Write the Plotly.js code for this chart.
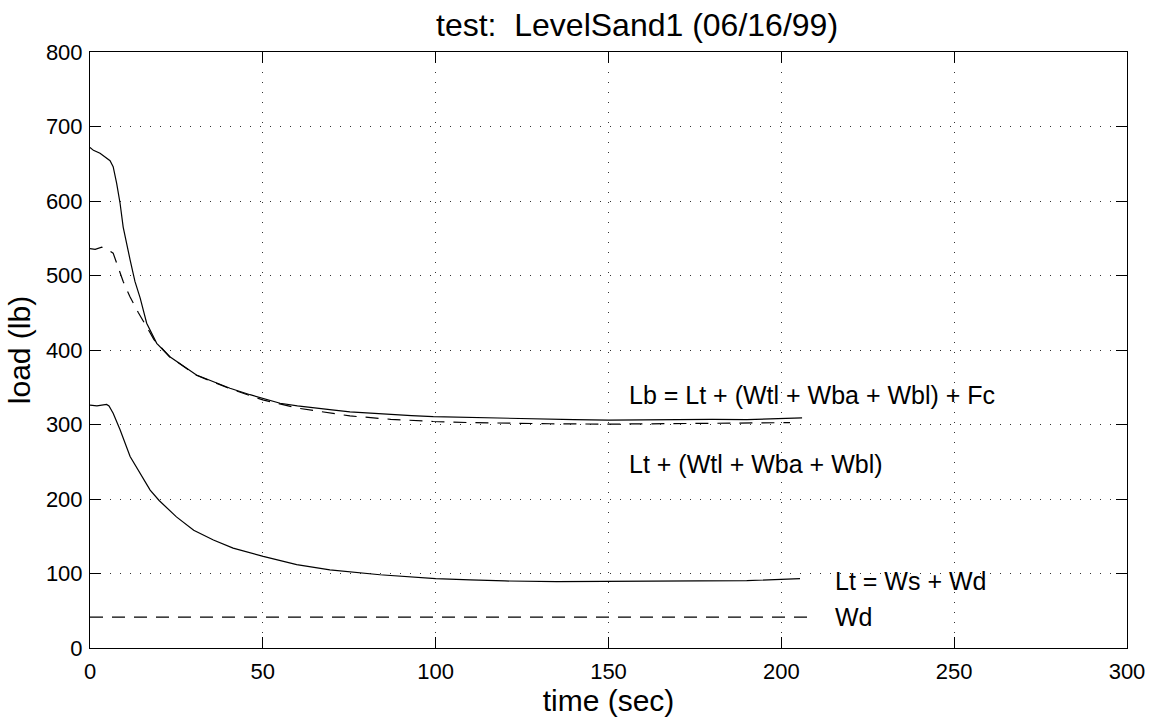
<!DOCTYPE html>
<html>
<head>
<meta charset="utf-8">
<script src="https://cdn.plot.ly/plotly-3.0.1.min.js"></script>
<style>html,body{margin:0;padding:0;background:#fff;}#chart{width:1153px;height:719px;}</style>
</head>
<body>
<div id="chart"></div>
<script>
// Lb = Lt + (Wtl + Wba + Wbl) + Fc  (solid)
const lbTime = [0, 1, 2.9, 4, 5.8, 6.7, 7.7, 8.7, 9.6, 11.6, 13, 14.5, 16.4, 19.3, 23.1, 30.8, 40.5, 46.3, 50.1, 55, 60, 65, 70, 75.2, 80, 87, 93, 99.3, 105, 112, 118, 125, 133, 140, 150, 160, 170, 180, 190, 198, 206];
const lbLoad = [672, 668, 664, 660, 654, 646, 624, 597, 565, 521, 492, 470, 436, 409, 391, 366.5, 348.7, 340, 335, 328.5, 325, 322, 319.5, 317, 315.5, 313, 312, 310.6, 310, 309, 308, 307.5, 306.5, 306.5, 306, 306.5, 306, 307, 306.5, 307.5, 309];

// Lt + (Wtl + Wba + Wbl)  (dashed)
const lwTime = [0, 1.5, 3.4, 5, 6.7, 8, 9.6, 11.6, 14, 16.9, 18.5, 23, 30.8, 40.5, 50, 60, 68, 75.2, 87, 99.3, 110, 118, 133, 150, 165, 175, 190, 202.5];
const lwLoad = [536, 535, 538, 535, 530, 512, 492, 471, 450, 427, 414, 391, 366, 348, 333, 322, 316, 311.5, 307, 304, 302.5, 301.7, 301, 300.5, 301, 301, 301.5, 302.5];

// Lt = Ws + Wd  (solid)
const ltTime = [0, 2, 4.8, 5.5, 6.7, 8.7, 11.6, 14.5, 17.4, 20, 25, 30, 35.7, 41.4, 50.1, 59.8, 69.4, 83.9, 100, 110, 120, 135, 147.5, 160, 175, 190, 205.4];
const ltLoad = [326, 325, 327, 325, 315, 293, 257, 235, 212, 198, 176, 158, 145, 134, 123, 112, 105, 98.3, 93, 91.5, 90, 89, 89.3, 89.5, 90, 90.5, 93];

// Wd (dashed, constant)
const wdTime = [0, 210];
const wdLoad = [41.5, 41.5];

const labels = ["Lb = Lt + (Wtl + Wba + Wbl) + Fc", "Lt + (Wtl + Wba + Wbl)", "Lt = Ws + Wd", "Wd"];
const labelX = [155.3, 155.3, 215, 215];
const labelY = [339, 247, 89.5, 41.5];

const titleText = "test:&nbsp; LevelSand1 (06/16/99)";
const xTitle = "time (sec)";
const yTitle = "load (lb)";

const FONT = "Liberation Sans, Arial, Helvetica, sans-serif";
const line = (dash) => ({color: "#000", width: 1.2, dash: dash});

const traces = [
  {x: lbTime, y: lbLoad, mode: "lines", line: line("solid"), hoverinfo: "skip"},
  {x: lwTime, y: lwLoad, mode: "lines", line: line("13px,9px"), hoverinfo: "skip"},
  {x: ltTime, y: ltLoad, mode: "lines", line: line("solid"), hoverinfo: "skip"},
  {x: wdTime, y: wdLoad, mode: "lines", line: line("13px,9px"), hoverinfo: "skip"}
];

const axisCommon = {
  ticks: "inside", ticklen: 11, tickwidth: 1, tickcolor: "#000",
  showline: true, linecolor: "#000", linewidth: 1, mirror: "ticks",
  showgrid: true, gridcolor: "#333", gridwidth: 1, griddash: "1px,9px",
  zeroline: false, tickfont: {family: FONT, size: 22, color: "#000"},
  automargin: false
};

const layout = {
  width: 1153, height: 719,
  margin: {l: 90, r: 26, t: 52, b: 71},
  paper_bgcolor: "#fff", plot_bgcolor: "#fff",
  showlegend: false,
  font: {family: FONT, color: "#000"},
  title: {text: titleText, font: {family: FONT, size: 32, color: "#000"}, x: 0.5275, xanchor: "center", xref: "paper", y: 0.965, yref: "container", yanchor: "middle"},
  xaxis: Object.assign({}, axisCommon, {range: [0, 300], tick0: 0, dtick: 50, ticklabelstandoff: 4,
    title: {text: xTitle, font: {family: FONT, size: 30, color: "#000"}, standoff: 6}}),
  yaxis: Object.assign({}, axisCommon, {range: [0, 800], tick0: 0, dtick: 100, ticklabelstandoff: 2,
    title: {text: yTitle, font: {family: FONT, size: 30, color: "#000"}, standoff: 6}}),
  annotations: labels.map((t, i) => ({
    x: labelX[i], y: labelY[i], xref: "x", yref: "y", text: t, showarrow: false,
    xanchor: "left", yanchor: "middle", font: {family: FONT, size: 25, color: "#000"}
  }))
};

Plotly.newPlot("chart", traces, layout, {staticPlot: true, displayModeBar: false});
</script>
</body>
</html>
